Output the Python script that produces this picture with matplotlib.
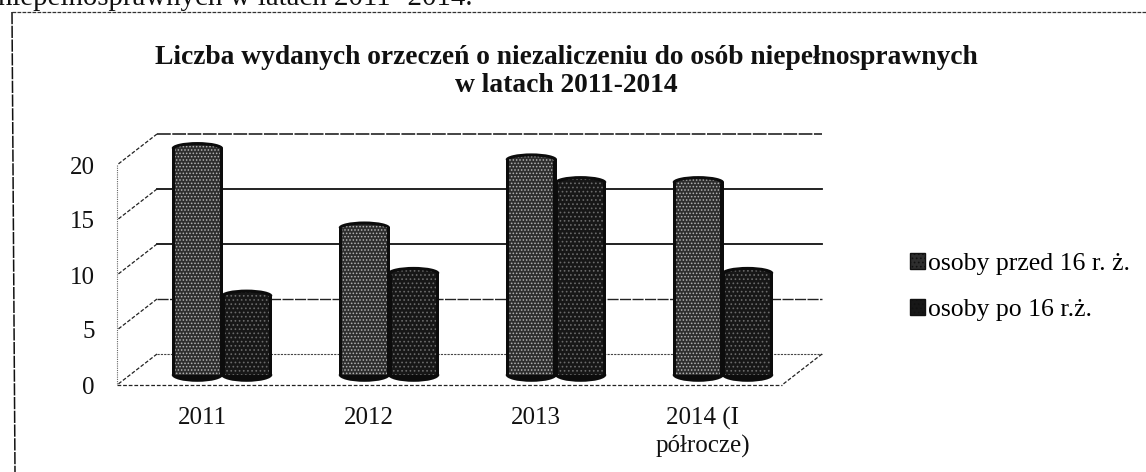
import matplotlib
matplotlib.use("Agg")
import matplotlib.pyplot as plt
from matplotlib.lines import Line2D
from matplotlib.patches import Ellipse
from matplotlib.transforms import ScaledTranslation

plt.rcParams['font.family'] = ['Liberation Serif', 'DejaVu Serif']
plt.rcParams['hatch.linewidth'] = 0.7

# Data
categories = ['2011', '2012', '2013', '2014 (I\npółrocze)']
before_16 = [20, 13, 19, 17]
after_16 = [7, 9, 17, 9]
series_names = ['osoby przed 16 r. ż.', 'osoby po 16 r.ż.']
y_ticks = [0, 5, 10, 15, 20]

W, H = 1146, 472
fig = plt.figure(figsize=(W / 100, H / 100), dpi=100, facecolor='white')


def box(left, top, right, bottom):
    # pixel box (from the top left) to figure fractions
    return [left / W, 1 - bottom / H, (right - left) / W, (bottom - top) / H]


def fx(x):
    return x / W


def fy(y):
    return 1 - y / H


# Scanned page leftovers: cut off sentence and dashed frame
fig.text(fx(-2), fy(5), 'niepełnosprawnych w latach 2011- 2014.', fontsize=20.8,
         ha='left', va='baseline', color='#111111')
fig.add_artist(Line2D([fx(12), fx(1146)], [fy(12), fy(12)], color='#333333', lw=0.9, ls=(0, (3, 1))))
fig.add_artist(Line2D([fx(12), fx(15)], [fy(12), fy(472)], color='#111111', lw=1.1, ls=(0, (8, 1))))

fig.text(fx(566), fy(57), 'Liczba wydanych orzeczeń o niezaliczeniu do osób niepełnosprawnych',
         fontsize=19.8, fontweight='bold', ha='center', va='center', color='#111111')
fig.text(fx(566), fy(85), 'w latach 2011-2014',
         fontsize=19.8, fontweight='bold', ha='center', va='center', color='#111111')

# Back wall with the gridlines
ax_back = fig.add_axes(box(157, 134, 822, 354))
ax_back.set_xlim(0, 1)
ax_back.set_ylim(0, 20)
ax_back.patch.set_alpha(0)
for s in ax_back.spines.values():
    s.set_visible(False)
ax_back.set_xticks([])
ax_back.set_yticks(y_ticks)
ax_back.set_yticklabels([str(v) for v in y_ticks], fontsize=18, color='#111111')
ax_back.tick_params(axis='y', length=0, pad=45)
# numbers sit on the front edge of the side wall
shift = ScaledTranslation(0, -31 / 100, fig.dpi_scale_trans)
for lab in ax_back.get_yticklabels():
    lab.set_transform(lab.get_transform() + shift)

grid_styles = {
    0: dict(color='#444444', lw=0.8, ls=(0, (2, 1))),
    5: dict(color='#222222', lw=1.0, ls=(0, (8, 1))),
    10: dict(color='#111111', lw=1.3, ls='-'),
    15: dict(color='#111111', lw=1.3, ls='-'),
    20: dict(color='#111111', lw=1.1, ls=(0, (9, 1))),
}
for v in y_ticks:
    ax_back.axhline(v, clip_on=False, zorder=1, **grid_styles[v])

# Wall and floor edges, in pixels counted from the back wall corners
dash = dict(color='#222222', lw=0.9, ls=(0, (3, 1.5)))
for v in y_ticks:
    xb, yb = ax_back.transData.transform((0, v))
    fig.add_artist(Line2D([fx(xb), fx(xb - 40)], [yb / H, (yb - 31) / H], **dash))
x0, y0 = ax_back.transData.transform((0, 0))
x1, y1 = ax_back.transData.transform((1, 0))
fig.add_artist(Line2D([fx(x1), fx(x1 - 40)], [y1 / H, (y1 - 31) / H], **dash))
fig.add_artist(Line2D([fx(x0 - 40), fx(x1 - 40)], [(y0 - 31) / H, (y0 - 31) / H], **dash))
xt, yt = ax_back.transData.transform((0, 20))
fig.add_artist(Line2D([fx(xt - 40), fx(xt - 40)], [(yt - 31) / H, (y0 - 31) / H],
                      color='#666666', lw=0.8, ls=(0, (1, 1))))

# Front axes: one category step is 167 px, 20 units are 228 px
ax = fig.add_axes(box(118, 148, 825, 375))
ax.patch.set_alpha(0)
ax.set_xlim(-0.623, 3.611)
ax.set_ylim(0, 20)
for s in ax.spines.values():
    s.set_visible(False)

width = 0.295
cap_h = 0.7
styles = [
    dict(color='#2e2e2e', edge='#b4b4b4', hatch='.....'),
    dict(color='#171717', edge='#6a6a6a', hatch='....'),
]
for i, values in enumerate([before_16, after_16]):
    st = styles[i]
    xs = [k + (i - 0.5) * width for k in range(len(categories))]
    base = 3 + 2 * i
    for x, v in zip(xs, values):
        # dark outline of the cylinder behind the textured body
        ax.add_patch(Ellipse((x, 0), width + 0.012, cap_h + 0.5, facecolor='#0c0c0c', edgecolor='none',
                             clip_on=False, zorder=base))
        ax.add_patch(Ellipse((x, v), width + 0.012, cap_h + 0.35, facecolor='#0c0c0c', edgecolor='none',
                             clip_on=False, zorder=base))
        ax.bar(x, v, width=width + 0.012, color='#0c0c0c', linewidth=0, zorder=base)
        ax.bar(x, v, width=width - 0.03, color=st['color'], edgecolor=st['edge'], hatch=st['hatch'],
               linewidth=0, zorder=base + 1)
        ax.add_patch(Ellipse((x, v - 0.1), width - 0.03, cap_h, facecolor=st['color'], edgecolor=st['edge'],
                             hatch=st['hatch'], linewidth=0, clip_on=False, zorder=base + 1))

ax.set_xticks([k - 0.12 for k in range(len(categories))])
ax.set_xticklabels(categories, fontsize=18, color='#111111', linespacing=1.25)
ax.tick_params(axis='x', length=0, pad=23)
ax.set_yticks([])

handles = [plt.Rectangle((0, 0), 1, 1, facecolor=styles[j]['color'], edgecolor='#111111',
                         hatch='....', lw=1) for j in range(2)]
fig.legend(handles, series_names, loc='center left', bbox_to_anchor=(fx(910), fy(287)),
           frameon=False, fontsize=18.5, labelspacing=0.95, handlelength=0.58, handleheight=0.58,
           handletextpad=0.12, borderpad=0, borderaxespad=0)

fig.savefig('out.png', dpi=100)
